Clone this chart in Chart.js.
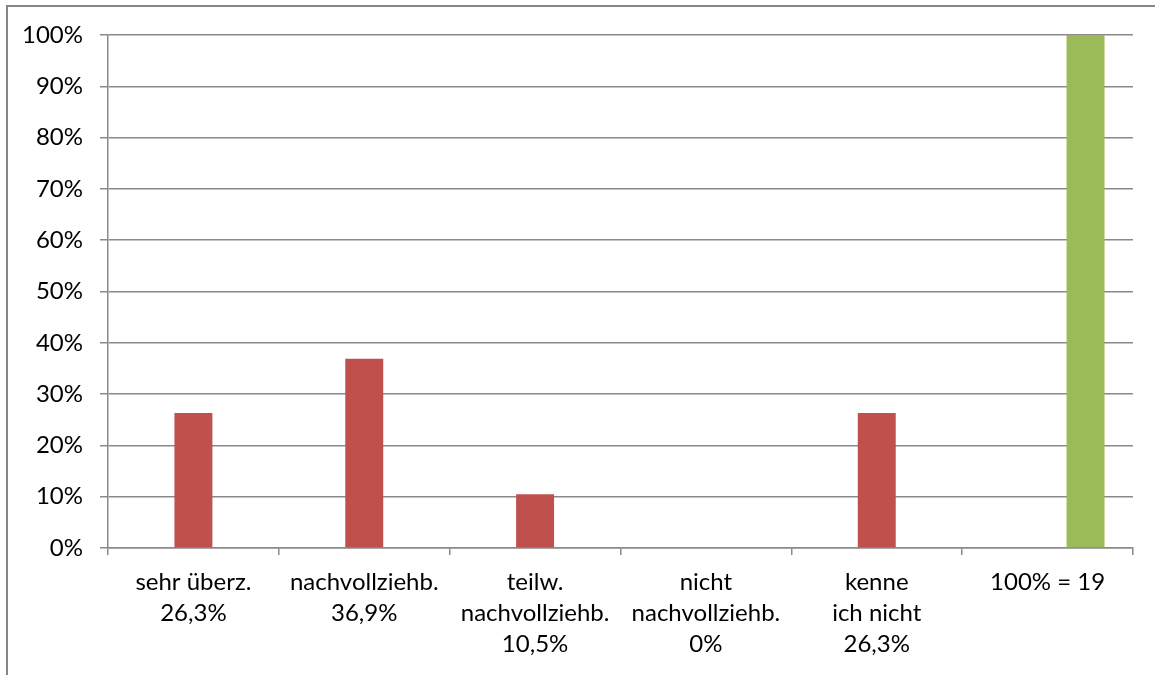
<!DOCTYPE html>
<html><head><meta charset="utf-8">
<script src="https://cdn.jsdelivr.net/npm/chart.js@4/dist/chart.umd.min.js"></script>
<style>html,body{margin:0;padding:0;background:#fff}#wrap{width:1155px;height:675px;position:relative}</style>
</head><body><div id="wrap"><canvas id="c" width="1155" height="675"></canvas></div>
<script>
const categories = [
  ["sehr überz.", "26,3%"],
  ["nachvollziehb.", "36,9%"],
  ["teilw.", "nachvollziehb.", "10,5%"],
  ["nicht", "nachvollziehb.", "0%"],
  ["kenne", "ich nicht", "26,3%"],
  ["100% = 19"]
];
const emptySeries = [null, null, null, null, null, null];
const answerShares = [26.3, 36.9, 10.5, 0, 26.3, null];
const totalShare = [null, null, null, null, null, 100];
const yTicks = [0, 10, 20, 30, 40, 50, 60, 70, 80, 90, 100];

const GRID = '#8a8a8a';
const borderPlugin = {
  id: 'outerBorder',
  beforeDraw(chart) {
    const ctx = chart.ctx;
    ctx.save();
    ctx.strokeStyle = '#868686';
    ctx.lineWidth = 2;
    ctx.strokeRect(7, 6, 1160, 700);
    ctx.restore();
  }
};

new Chart(document.getElementById('c'), {
  type: 'bar',
  data: {
    labels: categories,
    datasets: [
      { data: emptySeries, backgroundColor: '#4F81BD' },
      { data: answerShares, backgroundColor: '#C0504D' },
      { data: totalShare, backgroundColor: '#9BBB59' }
    ]
  },
  options: {
    responsive: false,
    animation: false,
    devicePixelRatio: 1,
    datasets: { bar: { categoryPercentage: 3 / 4.5, barPercentage: 1 } },
    layout: { padding: { left: 0, right: 22, top: 35, bottom: 0 } },
    plugins: { legend: { display: false }, tooltip: { enabled: false } },
    scales: {
      x: {
        grid: { offset: true, drawOnChartArea: false, drawTicks: true, tickLength: 7, color: GRID, lineWidth: 1.5 },
        border: { color: GRID, width: 1.5 },
        ticks: { color: '#000', font: { family: 'Lato', size: 24, lineHeight: '31px' }, padding: 12, maxRotation: 0, autoSkip: false },
        afterFit(s) { s.height = 127; }
      },
      y: {
        min: 0, max: 100,
        afterBuildTicks(s) { s.ticks = yTicks.map(v => ({ value: v })); },
        grid: { color: GRID, lineWidth: 1.5, drawTicks: true, tickLength: 8, tickColor: GRID },
        border: { color: GRID, width: 1.5 },
        ticks: { color: '#000', font: { family: 'Lato', size: 24 }, padding: 17, callback: v => v + '%' },
        afterFit(s) { s.width = 108; }
      }
    }
  },
  plugins: [borderPlugin]
});
</script></body></html>
